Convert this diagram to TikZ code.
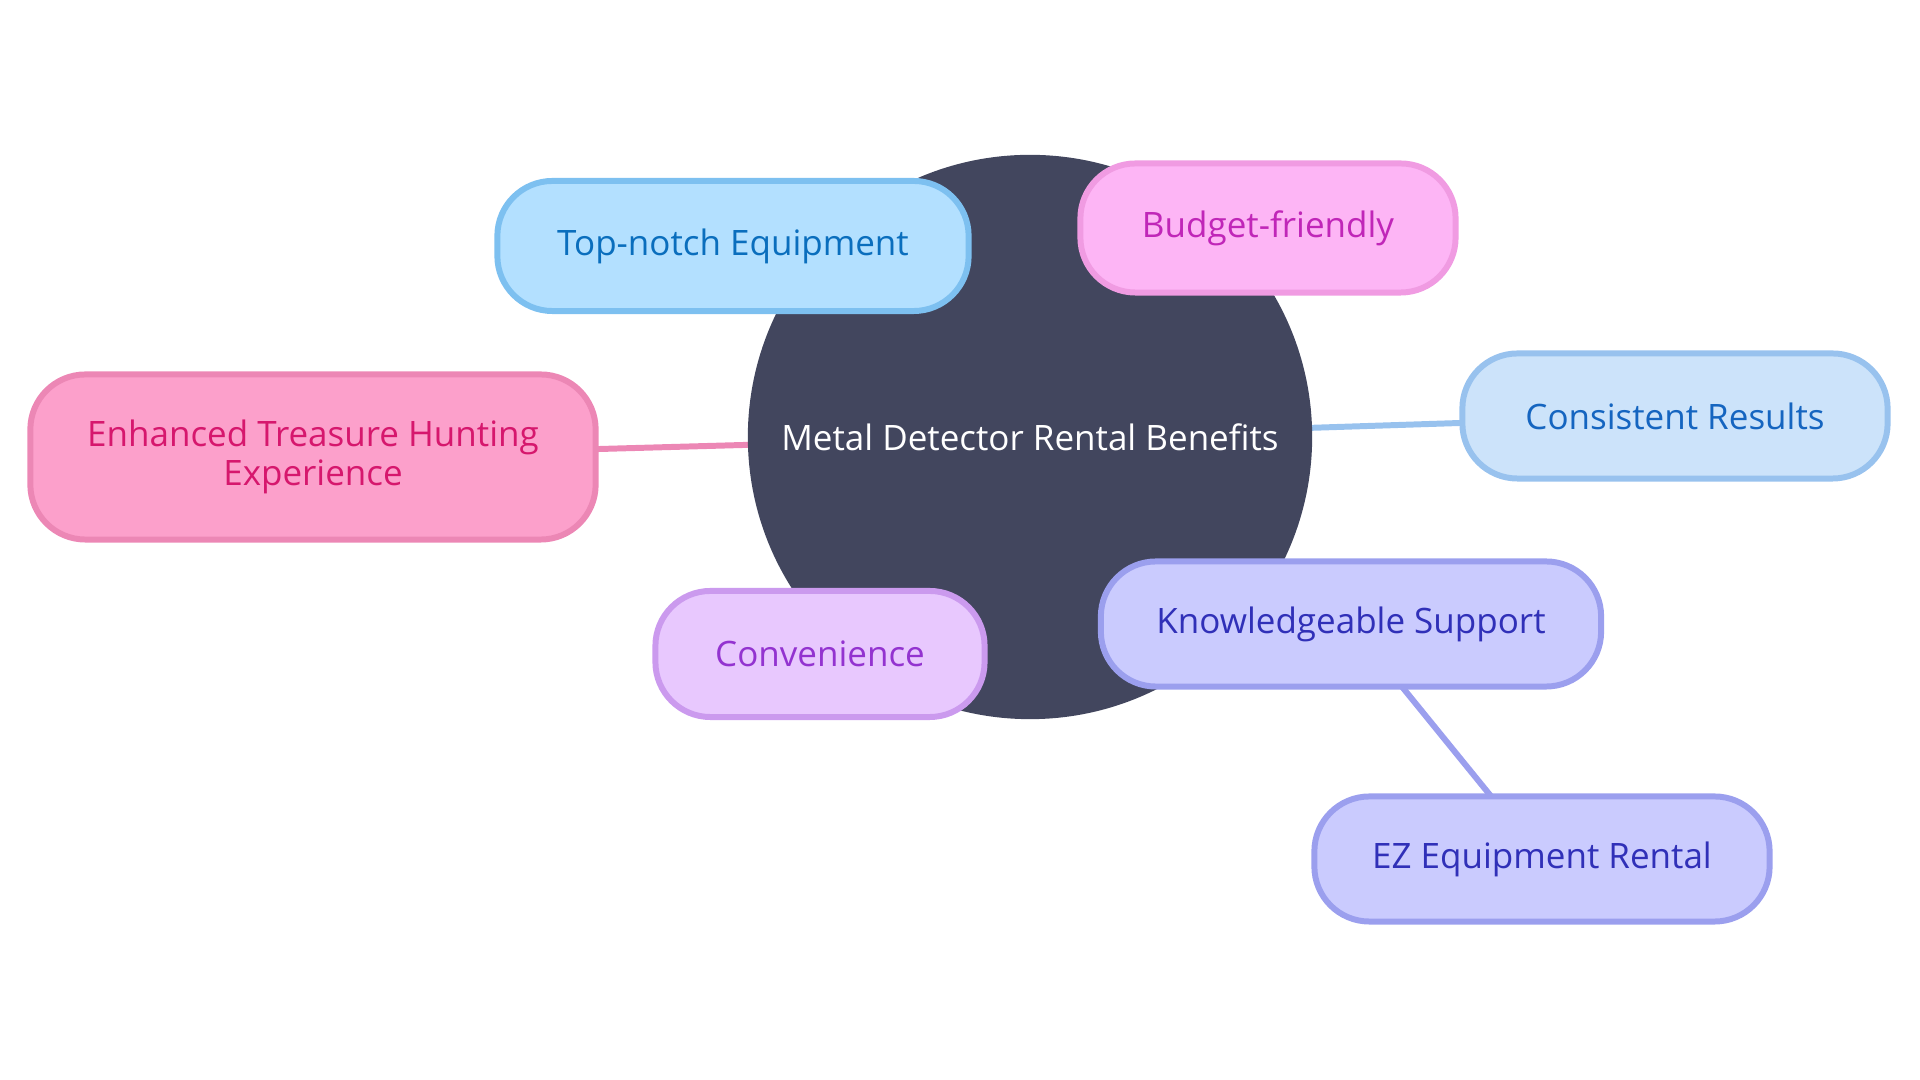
\documentclass[tikz,border=0pt]{standalone}
\usepackage{fontspec}
\setmainfont{Open Sans}
\usepackage{tikz}
\usetikzlibrary{positioning, backgrounds}
\definecolor{hubcolor}{HTML}{42465E}
\definecolor{topfill}{HTML}{B3E0FF}
\definecolor{topline}{HTML}{7DC0F0}
\definecolor{toptext}{HTML}{0A6EBD}
\definecolor{budfill}{HTML}{FDB5F5}
\definecolor{budline}{HTML}{F09BE2}
\definecolor{budtext}{HTML}{C026B8}
\definecolor{enhfill}{HTML}{FCA0CB}
\definecolor{enhline}{HTML}{EC87B5}
\definecolor{enhtext}{HTML}{D6176D}
\definecolor{confill}{HTML}{CCE3FA}
\definecolor{conline}{HTML}{98C2EE}
\definecolor{context}{HTML}{1565C0}
\definecolor{supfill}{HTML}{CACBFE}
\definecolor{supline}{HTML}{9B9FEE}
\definecolor{suptext}{HTML}{3030B8}
\definecolor{cvnfill}{HTML}{E8C8FE}
\definecolor{cvnline}{HTML}{CB9AEE}
\definecolor{cvntext}{HTML}{9333D0}

\begin{document}
\begin{tikzpicture}[x=0.01cm, y=-0.01cm, font=\fontsize{9.95pt}{10.9pt}\selectfont]
        \tikzstyle{topic}=[rounded corners=0.55cm, line width=1.7pt, align=center, inner sep=0pt]
        \tikzstyle{link}=[line width=1.7pt]

        % Page frame
        \useasboundingbox (0,0) rectangle (1920,1080);

        % Central topic
        \node[circle, fill=hubcolor, minimum size=5.64cm, text=white] (hub) at (1030,437) {Metal Detector Rental Benefits};

        % Benefits around it
        \node[topic, fill=topfill, draw=topline, text=toptext, minimum width=4.71cm, minimum height=1.30cm] (top) at (733,246) {Top-notch Equipment};
        \node[topic, fill=budfill, draw=budline, text=budtext, minimum width=3.75cm, minimum height=1.29cm] (budget) at (1268,228) {Budget-friendly};
        \node[topic, fill=enhfill, draw=enhline, text=enhtext, minimum width=5.65cm, minimum height=1.65cm] (hunt) at (313,457) {Enhanced Treasure Hunting\\Experience};
        \node[topic, fill=confill, draw=conline, text=context, minimum width=4.25cm, minimum height=1.25cm] (results) at (1675,416) {Consistent Results};
        \node[topic, fill=supfill, draw=supline, text=suptext, minimum width=5.00cm, minimum height=1.25cm] (support) at (1351,624) {Knowledgeable Support};
        \node[topic, fill=cvnfill, draw=cvnline, text=cvntext, minimum width=3.29cm, minimum height=1.26cm] (conv) at (820,654) {Convenience};
        \node[topic, fill=supfill, draw=supline, text=suptext, minimum width=4.55cm, minimum height=1.25cm] (ezrent) at (1542,859) {EZ Equipment Rental};

        % Connectors behind everything
        \begin{scope}[on background layer]
            \draw[link, topline] (hub.center) -- (top.center);
            \draw[link, budline] (hub.center) -- (budget.center);
            \draw[link, enhline] (hub.center) -- (hunt.center);
            \draw[link, conline] (hub.center) -- (results.center);
            \draw[link, supline] (hub.center) -- (support.center);
            \draw[link, cvnline] (hub.center) -- (conv.center);
            \draw[link, supline] (support.center) -- (ezrent.center);
        \end{scope}
    \end{tikzpicture}
\end{document}
